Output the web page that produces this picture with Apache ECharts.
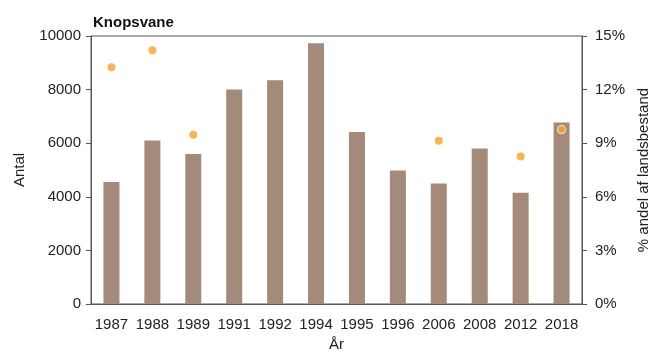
<!DOCTYPE html>
<html>
<head>
<meta charset="utf-8">
<script src="https://cdn.jsdelivr.net/npm/echarts@6/dist/echarts.min.js"></script>
<style>
  html, body { margin: 0; padding: 0; background: #fff; }
  #chart { width: 652px; height: 353px; }
</style>
</head>
<body>
<div id="chart"></div>
<script>
// data
const years = ["1987", "1988", "1989", "1991", "1992", "1994", "1995", "1996", "2006", "2008", "2012", "2018"];
const antal = [4550, 6100, 5600, 8000, 8350, 9730, 6420, 4980, 4500, 5800, 4150, 6770];
const andel = [13.25, 14.2, 9.47, null, null, null, null, null, 9.14, null, 8.26, 9.76];

const barColor = "#a38a7a";
const dotColor = "#f2a52c";
const lineColor = "#555";
const font = "Liberation Sans, Arial, sans-serif";

const chart = echarts.init(document.getElementById("chart"));

const option = {
  animation: false,
  title: {
    text: "Knopsvane",
    left: 88,
    top: 10,
    textStyle: { fontFamily: font, fontSize: 15, fontWeight: "bold", color: "#111" },
  },
  grid: {
    left: 91,
    right: 70,
    top: 36,
    bottom: 49,
    outerBoundsMode: "none",
    containLabel: false,
    show: true,
    borderColor: lineColor,
    borderWidth: 1,
  },
  xAxis: {
    type: "category",
    data: years,
    name: "År",
    nameLocation: "middle",
    nameGap: 33,
    nameTextStyle: { fontFamily: font, fontSize: 15, color: "#222" },
    axisLine: { lineStyle: { color: lineColor } },
    axisTick: { length: 7, lineStyle: { color: lineColor } },
    axisLabel: { fontFamily: font, fontSize: 15, color: "#222", margin: 13, interval: 0 },
  },
  yAxis: [
    {
      type: "value",
      min: 0,
      max: 10000,
      interval: 2000,
      name: "Antal",
      nameLocation: "middle",
      nameGap: 64,
      nameTextStyle: { fontFamily: font, fontSize: 15, color: "#222" },
      axisLine: { show: true, lineStyle: { color: lineColor } },
      axisTick: { show: true, length: 5, lineStyle: { color: lineColor } },
      axisLabel: { fontFamily: font, fontSize: 15, color: "#222", margin: 10, formatter: function (v) { return String(v); } },
      splitLine: { show: false },
    },
    {
      type: "value",
      min: 0,
      max: 15,
      interval: 3,
      name: "% andel af landsbestand",
      nameLocation: "middle",
      nameGap: 48,
      nameRotate: 90,
      nameTextStyle: { fontFamily: font, fontSize: 15, color: "#222" },
      axisLine: { show: true, lineStyle: { color: lineColor } },
      axisTick: { show: true, length: 5, lineStyle: { color: lineColor } },
      axisLabel: { fontFamily: font, fontSize: 15, color: "#222", margin: 13, formatter: "{value}%" },
      splitLine: { show: false },
    },
  ],
  series: [
    {
      name: "Antal",
      type: "bar",
      data: antal,
      barWidth: 16,
      itemStyle: { color: barColor },
    },
    {
      name: "Andel",
      type: "scatter",
      yAxisIndex: 1,
      data: andel.map(function (v, i) {
        if (i === andel.length - 1) {
          return { value: v, itemStyle: { borderColor: "#fbe3b0", borderWidth: 1.5 } };
        }
        return v;
      }),
      symbolSize: 8,
      itemStyle: { color: dotColor },
      z: 5,
    },
  ],
};

chart.setOption(option);
</script>
</body>
</html>
